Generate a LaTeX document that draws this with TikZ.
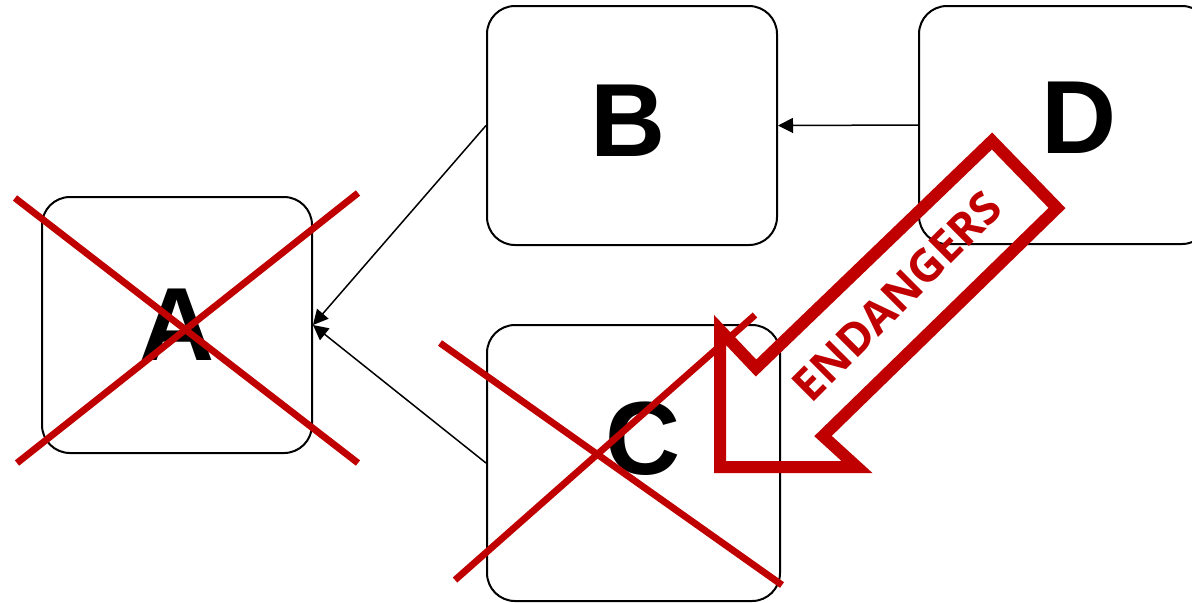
\documentclass[tikz,border=0pt]{standalone}
\usepackage{fontspec}
\setmainfont{Liberation Sans}
\newfontfamily\warnfont{Open Sans}
\usepackage{tikz}
\usetikzlibrary{arrows.meta}
\definecolor{crossred}{HTML}{C00000}
\tikzset{%
  box/.style = {rectangle,draw,line width=1pt,rounded corners=14pt,
        inner sep=0pt},
  letter/.style = {font=\fontsize{52}{60}\selectfont\bfseries},
  link/.style = {-{Triangle[length=7.5pt,width=7.5pt]},line width=0.75pt},
  cross/.style = {draw=crossred,line width=3.4pt},
  warn/.style = {draw=crossred,line width=6pt,miter limit=20},
  warntext/.style = {text=crossred,inner sep=0pt,
        font=\warnfont\fontsize{22.5}{26}\selectfont\bfseries}
}

\begin{document}
\begin{tikzpicture}[x=0.5pt,y=-0.5pt]
\useasboundingbox (0,0) rectangle (1192,602);
% boxes
\node[box,minimum width=135pt,minimum height=128pt,
      label={[letter]center:A}] (a) at (177,325) {};
\node[box,minimum width=145pt,minimum height=119.5pt,
      label={[letter,xshift=-2pt,yshift=2.5pt]center:B}] (b) at (632,125.5) {};
\node[box,minimum width=146.5pt,minimum height=138pt,
      label={[letter,xshift=5pt,yshift=12pt]center:C}] (c) at (633.5,463) {};
\node[box,minimum width=145.5pt,minimum height=119pt,
      label={[letter,xshift=7.5pt,yshift=3.5pt]center:D}] (d) at (1064.5,125) {};
% links
\draw[link] (b.west) -- (a.east);
\draw[link] (c.west) -- (a.east);
\draw[link] (d.west) -- (b.east);
% big arrow
\draw[warn] (992,141) -- (1057,208) -- (823,436) -- (857,467)
    -- (720,467) -- (720,330) -- (756,368) -- cycle;
\node[warntext,rotate=45] (warnlabel) at (897,296) {ENDANGERS};
% crosses
\draw[cross] (15,198) -- (358,463);
\draw[cross] (17,463) -- (358,193);
\draw[cross] (440,343) -- (782,585);
\draw[cross] (455,580) -- (755,315);
\end{tikzpicture}
\end{document}
